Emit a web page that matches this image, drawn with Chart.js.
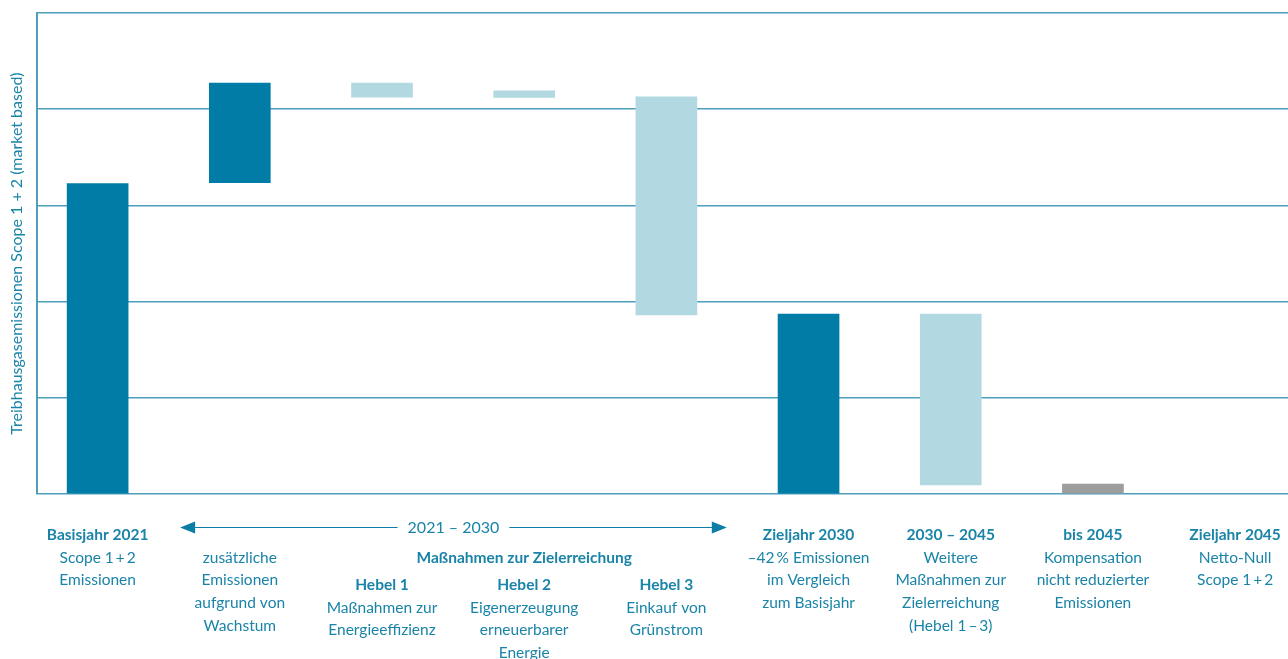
<!DOCTYPE html>
<html lang="de">
<head>
<meta charset="utf-8">
<title>Treibhausgasemissionen Scope 1 + 2</title>
<script src="https://cdn.jsdelivr.net/npm/chart.js@4/dist/chart.umd.min.js"></script>
<style>
  html, body { margin: 0; padding: 0; background: #fff; }
  #wrap { position: relative; width: 1288px; height: 659px; }
</style>
</head>
<body>
<div id="wrap"><canvas id="wasserfall"></canvas></div>
<script>
// Werte (Basisjahr 2021 = 100)
const positions = [0, 1, 2, 3, 4, 5, 6, 7];
const barLow  = [0,   100.3, 127.9, 127.8, 57.7, 0,  2.9, 0];
const barHigh = [100, 132.4, 132.4, 129.9, 128,  58, 58,  3.2];
const barColors = ['#007ca6', '#007ca6', '#b2d8e2', '#b2d8e2', '#b2d8e2', '#007ca6', '#b2d8e2', '#9d9d9d'];

// Beschriftungen unter den Balken (Spalte 0..8)
const headLines = ['Basisjahr 2021', '', 'Hebel 1', 'Hebel 2', 'Hebel 3', 'Zieljahr 2030', '2030 – 2045', 'bis 2045', 'Zieljahr 2045'];
const bodyLines = [
  ['Scope 1\u2009+\u20092', 'Emissionen'],
  ['zusätzliche', 'Emissionen', 'aufgrund von', 'Wachstum'],
  ['Maßnahmen zur', 'Energieeffizienz'],
  ['Eigenerzeugung', 'erneuerbarer', 'Energie'],
  ['Einkauf von', 'Grünstrom'],
  ['–42\u2009% Emissionen', 'im Vergleich', 'zum Basisjahr'],
  ['Weitere', 'Maßnahmen zur', 'Zielerreichung', '(Hebel 1\u2009–\u20093)'],
  ['Kompensation', 'nicht reduzierter', 'Emissionen'],
  ['Netto-Null', 'Scope 1\u2009+\u20092']
];
const groupTitle = '2021 – 2030';
const groupSubtitle = 'Maßnahmen zur Zielerreichung';
const arrowSpan = [0.58, 4.425];

const textColor = '#1a84a8';
const lineColor = '#4f9fbd';
const fontFamily = 'Lato, "Noto Sans", sans-serif';

const labelPlugin = {
  id: 'labels',
  afterDraw(chart) {
    const ctx = chart.ctx;
    const x = chart.scales.x;
    const lh = 22.7;
    ctx.save();
    ctx.textAlign = 'center';
    ctx.textBaseline = 'middle';
    ctx.fillStyle = textColor;

    headLines.forEach((head, i) => {
      const cx = x.getPixelForValue(i);
      const inGroup = i >= 2 && i <= 4;
      let y = inGroup ? 585 : 535;
      if (head) {
        ctx.font = 'bold 15.5px ' + fontFamily;
        ctx.fillText(head, cx, y);
      }
      y += lh;
      ctx.font = '15.5px ' + fontFamily;
      bodyLines[i].forEach(line => {
        ctx.fillText(line, cx, y);
        y += lh;
      });
    });

    // Zeitraum-Pfeil 2021 – 2030
    const ax1 = x.getPixelForValue(arrowSpan[0]);
    const ax2 = x.getPixelForValue(arrowSpan[1]);
    const amid = (ax1 + ax2) / 2;
    const ay = 527;
    ctx.font = '16px ' + fontFamily;
    const tw = ctx.measureText(groupTitle).width;
    ctx.fillText(groupTitle, amid, ay + 1);
    ctx.strokeStyle = '#0a7ea6';
    ctx.fillStyle = '#0a7ea6';
    ctx.lineWidth = 1;
    ctx.beginPath();
    ctx.moveTo(ax1 + 10, ay + 0.5);
    ctx.lineTo(amid - tw / 2 - 10, ay + 0.5);
    ctx.moveTo(amid + tw / 2 + 10, ay + 0.5);
    ctx.lineTo(ax2 - 10, ay + 0.5);
    ctx.stroke();
    ctx.beginPath();
    ctx.moveTo(ax1, ay + 0.5);
    ctx.lineTo(ax1 + 15, ay - 5.5);
    ctx.lineTo(ax1 + 15, ay + 6.5);
    ctx.closePath();
    ctx.fill();
    ctx.beginPath();
    ctx.moveTo(ax2, ay + 0.5);
    ctx.lineTo(ax2 - 15, ay - 5.5);
    ctx.lineTo(ax2 - 15, ay + 6.5);
    ctx.closePath();
    ctx.fill();

    ctx.fillStyle = textColor;
    ctx.font = 'bold 15.5px ' + fontFamily;
    ctx.fillText(groupSubtitle, x.getPixelForValue(3), 558);
    ctx.restore();
  }
};

new Chart(document.getElementById('wasserfall'), {
  type: 'bar',
  data: {
    datasets: [{
      data: positions.map(i => ({ x: i, y: [barLow[i], barHigh[i]] })),
      backgroundColor: barColors,
      borderWidth: 0,
      barThickness: 61,
      grouped: false
    }]
  },
  options: {
    responsive: true,
    maintainAspectRatio: false,
    animation: false,
    layout: { padding: { top: 13, bottom: 165, left: 0, right: 0 } },
    plugins: {
      legend: { display: false },
      tooltip: { enabled: false }
    },
    scales: {
      x: {
        type: 'linear',
        display: false,
        offset: false,
        min: -0.425,
        max: 8.372
      },
      y: {
        min: 0,
        max: 155,
        ticks: { display: false, stepSize: 31 },
        grid: { color: lineColor, lineWidth: 1.5, drawTicks: false },
        border: { display: true, color: lineColor, width: 2 },
        title: {
          display: true,
          text: 'Treibhausgasemissionen Scope 1 + 2 (market based)',
          color: textColor,
          font: { family: fontFamily, size: 16 },
          padding: { top: 7, bottom: 11 }
        }
      }
    }
  },
  plugins: [labelPlugin]
});
</script>
</body>
</html>
